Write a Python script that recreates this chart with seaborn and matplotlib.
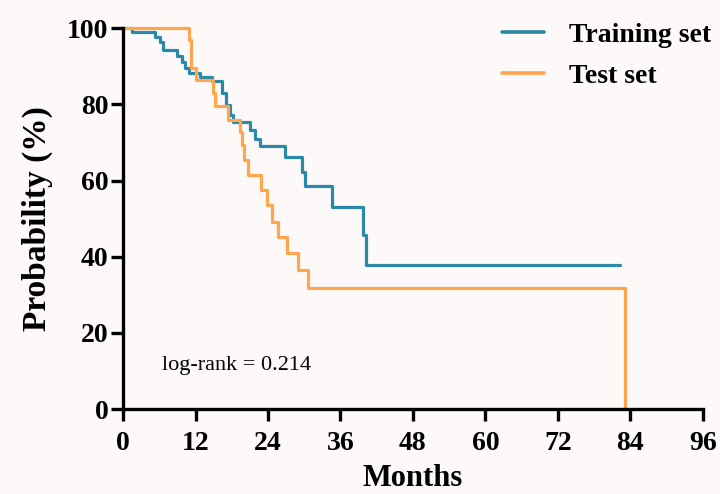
import matplotlib
matplotlib.use("Agg")
import matplotlib.pyplot as plt
import numpy as np
import pandas as pd
import seaborn as sns

# Kaplan-Meier steps (months, survival %)
train_months = [0, 1.4, 5.3, 6.1, 6.6, 9.0, 9.7, 10.3, 10.9, 12.7, 14.8, 16.3,
                17.0, 17.7, 18.2, 21.0, 21.9, 22.7, 26.8, 29.6, 30.1, 34.6,
                39.7, 40.3, 82.3]
train_prob = [100, 99.0, 97.8, 96.3, 94.2, 92.8, 91.0, 89.5, 88.2, 87.1, 86.0,
              82.9, 79.8, 77.2, 75.4, 73.2, 71.0, 69.0, 66.2, 62.3, 58.5, 53.1,
              45.7, 37.8, 37.8]

test_months = [0, 10.9, 11.3, 12.0, 14.9, 15.3, 17.4, 19.4, 19.7, 20.1, 20.7,
               22.8, 23.8, 24.6, 25.7, 27.1, 29.0, 30.7, 83.1]
test_prob = [100, 96.9, 89.6, 86.4, 82.9, 79.5, 75.9, 72.7, 69.3, 65.4, 61.4,
             57.5, 53.5, 49.2, 45.2, 40.9, 36.5, 31.7, 0]

group_names = ["Training set", "Test set"]
group_colors = ["#2a88a8", "#ffa64d"]
x_ticks = [0, 12, 24, 36, 48, 60, 72, 84, 96]
y_ticks = [0, 20, 40, 60, 80, 100]
note = "log-rank = 0.214"

df = pd.concat([
    pd.DataFrame({"Months": train_months, "Prob": train_prob, "set": group_names[0]}),
    pd.DataFrame({"Months": test_months, "Prob": test_prob, "set": group_names[1]}),
])

sns.set_style("ticks")
plt.rcParams["font.family"] = ["Liberation Serif", "DejaVu Serif"]
plt.rcParams["text.color"] = "black"
plt.rcParams["axes.labelcolor"] = "black"
plt.rcParams["xtick.color"] = "black"
plt.rcParams["ytick.color"] = "black"
plt.rcParams["axes.edgecolor"] = "black"
bg = "#fdf9f8"

fig, ax = plt.subplots(figsize=(7.2, 4.94), dpi=100)
fig.patch.set_facecolor(bg)
ax.set_facecolor(bg)
fig.subplots_adjust(left=0.171, right=0.976, top=0.943, bottom=0.172)

sns.lineplot(data=df, x="Months", y="Prob", hue="set", hue_order=group_names,
             palette=group_colors, estimator=None, sort=False,
             drawstyle="steps-post", linewidth=2.3, ax=ax, clip_on=False)

ax.set_xlim(0, 96)
ax.set_ylim(0, 100)
ax.set_xticks(x_ticks)
ax.set_yticks(y_ticks)
ax.set_xlabel("Months", fontsize=22, fontweight="bold", labelpad=6)
ax.set_ylabel("Probability (%)", fontsize=24, fontweight="bold", labelpad=10)
for lab in ax.get_xticklabels() + ax.get_yticklabels():
    lab.set_fontweight("bold")
    lab.set_fontsize(20)
ax.tick_params(direction="out", length=8.5, width=2.4)
ax.tick_params(axis="x", pad=7)
ax.tick_params(axis="y", pad=2)
sns.despine(ax=ax)
for side in ["left", "bottom"]:
    ax.spines[side].set_linewidth(2.4)

ax.text(6.5, 11.5, note, fontsize=16, va="center", ha="left")

leg = ax.legend(loc="upper left", bbox_to_anchor=(0.697, 0.954),
                bbox_transform=fig.transFigure, frameon=False,
                borderpad=0, borderaxespad=0,
                prop={"weight": "bold", "size": 20}, handlelength=1.5,
                handletextpad=0.9, labelspacing=0.55)
for h in leg.get_lines():
    h.set_linewidth(2.6)

fig.savefig("out.png", dpi=100, facecolor=bg)
